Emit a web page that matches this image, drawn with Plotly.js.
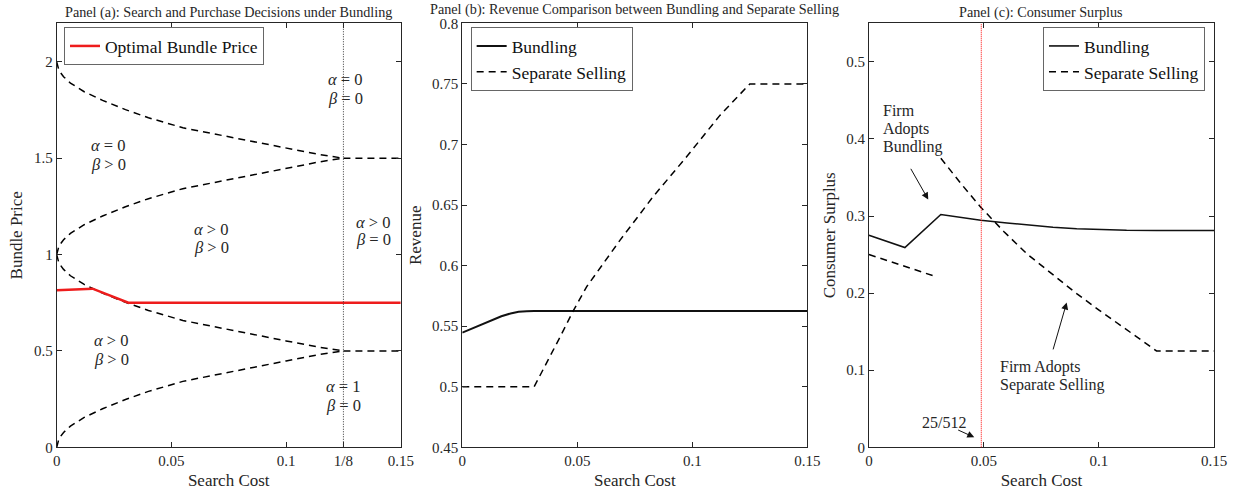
<!DOCTYPE html>
<html><head><meta charset="utf-8">
<script src="https://cdn.plot.ly/plotly-3.0.1.min.js"></script>
<style>html,body{margin:0;padding:0;background:#fff}#chart{width:1235px;height:492px}</style>
</head><body><div id="chart"></div>
<script>
// ---------- Panel (a) data ----------
const costGridA = [0, 0.001, 0.003, 0.006, 0.012, 0.02, 0.03, 0.04, 0.055, 0.07, 0.085, 0.1, 0.115, 0.125];
const upperHigh = [2.0, 1.955, 1.923, 1.89, 1.845, 1.80, 1.752, 1.71, 1.658, 1.622, 1.587, 1.552, 1.518, 1.5];
const upperLow  = [1.0, 1.045, 1.077, 1.11, 1.155, 1.20, 1.248, 1.29, 1.342, 1.378, 1.413, 1.448, 1.482, 1.5];
const lowerHigh = [1.0, 0.955, 0.923, 0.89, 0.845, 0.80, 0.752, 0.71, 0.658, 0.622, 0.587, 0.552, 0.518, 0.5];
const lowerLow  = [0.0, 0.045, 0.077, 0.11, 0.155, 0.20, 0.248, 0.29, 0.342, 0.378, 0.413, 0.448, 0.482, 0.5];
const flatCost  = [0.125, 0.15];
const flatUpper = [1.5, 1.5];
const flatLower = [0.5, 0.5];
const optimalCost  = [0, 0.015625, 0.03125, 0.15];
const optimalPrice = [0.815, 0.823, 0.75, 0.75];
const thresholdA = 0.125;
const xTickValsA = [0, 0.05, 0.1, 0.125, 0.15];
const xTickTextA = ['0', '0.05', '0.1', '1/8', '0.15'];
const yTickValsA = [0, 0.5, 1, 1.5, 2];
const yTickTextA = ['0', '0.5', '1', '1.5', '2'];

// ---------- Panel (b) data ----------
const revCostBundle = [0, 0.004, 0.008, 0.0125, 0.017, 0.021, 0.0245, 0.028, 0.03125, 0.15];
const revBundle     = [0.5446, 0.5477, 0.5507, 0.5545, 0.5582, 0.5605, 0.5618, 0.5624, 0.5625, 0.5625];
const revCostSep    = [0, 0.03125, 0.0425, 0.0483, 0.0541, 0.0686, 0.083, 0.0976, 0.112, 0.125, 0.15];
const revSep        = [0.5, 0.5, 0.541, 0.5628, 0.5826, 0.621, 0.657, 0.690, 0.724, 0.75, 0.75];
const yTickValsB = [0.45, 0.5, 0.55, 0.6, 0.65, 0.7, 0.75, 0.8];
const yTickTextB = ['0.45', '0.5', '0.55', '0.6', '0.65', '0.7', '0.75', '0.8'];

// ---------- Panel (c) data ----------
const csCostBundle = [0, 0.015625, 0.03125, 0.04, 0.0486, 0.06, 0.0686, 0.08, 0.0903, 0.1, 0.112, 0.125, 0.15];
const csBundle     = [0.275, 0.259, 0.302, 0.298, 0.2945, 0.291, 0.2885, 0.2855, 0.2835, 0.2823, 0.2815, 0.2813, 0.2813];
const csCostSep    = [0, 0.0295, null, 0.03125, 0.04, 0.0486, 0.0586, 0.0686, 0.08, 0.0903, 0.1, 0.112, 0.125, 0.15];
const csSep        = [0.25, 0.221, null, 0.375, 0.342, 0.3114, 0.28, 0.2511, 0.224, 0.1993, 0.178, 0.152, 0.125, 0.125];
const thresholdC = 25 / 512;
const xTickValsBC = [0, 0.05, 0.1, 0.15];
const xTickTextBC = ['0', '0.05', '0.1', '0.15'];
const yTickValsC = [0, 0.1, 0.2, 0.3, 0.4, 0.5];
const yTickTextC = ['0', '0.1', '0.2', '0.3', '0.4', '0.5'];

// ---------- styling ----------
const FONT = 'Liberation Serif';
const INK = '#262626';
const DASH = '7px,5px';

function dashed(x, y, xa, ya, extra) {
  return Object.assign({x: x, y: y, xaxis: xa, yaxis: ya, type: 'scatter', mode: 'lines',
    line: {color: '#000', width: 1.5, dash: DASH}, showlegend: false, hoverinfo: 'skip'}, extra || {});
}

const traces = [
  dashed(costGridA, upperHigh, 'x', 'y'),
  dashed(costGridA, upperLow, 'x', 'y'),
  dashed(flatCost, flatUpper, 'x', 'y'),
  dashed(costGridA, lowerHigh, 'x', 'y'),
  dashed(costGridA, lowerLow, 'x', 'y'),
  dashed(flatCost, flatLower, 'x', 'y'),
  {x: optimalCost, y: optimalPrice, xaxis: 'x', yaxis: 'y', type: 'scatter', mode: 'lines',
   name: 'Optimal Bundle Price', line: {color: '#ee1c1c', width: 2.5}, legend: 'legend'},
  {x: revCostBundle, y: revBundle, xaxis: 'x2', yaxis: 'y2', type: 'scatter', mode: 'lines',
   name: 'Bundling', line: {color: '#111', width: 2}, legend: 'legend2'},
  dashed(revCostSep, revSep, 'x2', 'y2', {name: 'Separate Selling', showlegend: true, legend: 'legend2'}),
  {x: csCostBundle, y: csBundle, xaxis: 'x3', yaxis: 'y3', type: 'scatter', mode: 'lines',
   name: 'Bundling', line: {color: '#111', width: 1.6}, legend: 'legend3'},
  dashed(csCostSep, csSep, 'x3', 'y3', {name: 'Separate Selling', showlegend: true, legend: 'legend3', connectgaps: false})
];

function xAxis(domain, tv, tt, anchor) {
  return {domain: domain, range: [0, 0.15], anchor: anchor, tickvals: tv, ticktext: tt,
    ticks: 'inside', ticklen: 5, tickwidth: 1, tickcolor: INK, showline: true, linecolor: INK, linewidth: 1,
    mirror: 'ticks', showgrid: false, zeroline: false, automargin: false,
    tickfont: {family: FONT, size: 15, color: INK},
    title: {text: 'Search Cost', font: {family: FONT, size: 17, color: INK}, standoff: 5}};
}
function yAxis(range, tv, tt, title, anchor) {
  return {domain: [0.0909, 0.9526], range: range, anchor: anchor, tickvals: tv, ticktext: tt,
    ticks: 'inside', ticklen: 5, tickwidth: 1, tickcolor: INK, showline: true, linecolor: INK, linewidth: 1,
    mirror: 'ticks', showgrid: false, zeroline: false, automargin: false,
    tickfont: {family: FONT, size: 15, color: INK},
    title: {text: title, font: {family: FONT, size: 17, color: INK}, standoff: 6}};
}

function legendAt(x, xanchor) {
  return {x: x, y: 0.945, xanchor: xanchor, yanchor: 'top', bgcolor: '#fff', bordercolor: '#666',
    borderwidth: 1, font: {family: FONT, size: 17.5, color: '#111'}, itemwidth: 30, tracegroupgap: 0};
}

function note(text, x, y, xa, ya, size) {
  return {text: text, x: x, y: y, xref: xa, yref: ya, xanchor: 'left', yanchor: 'middle', align: 'left',
    showarrow: false, font: {family: FONT, size: size || 16, color: INK}};
}
function arrow(x0, y0, x1, y1) {
  return {text: '', x: x1, y: y1, ax: x0, ay: y0, xref: 'x3', yref: 'y3', axref: 'x3', ayref: 'y3',
    showarrow: true, arrowhead: 2, arrowsize: 1.4, arrowwidth: 1, arrowcolor: '#111'};
}
function panelTitle(text, x, y) {
  return {text: text, x: x, y: y, xref: 'paper', yref: 'paper', xanchor: 'center', yanchor: 'middle',
    showarrow: false, font: {family: FONT, size: 14.2, color: INK}};
}

const A = '<i>α</i>', B = '<i>β</i>';
const annotations = [
  panelTitle('Panel (a): Search and Purchase Decisions under Bundling', 0.1852, 0.9756),
  panelTitle('Panel (b): Revenue Comparison between Bundling and Separate Selling', 0.514, 0.981),
  panelTitle('Panel (c): Consumer Surplus', 0.8433, 0.9756),
  note(A + ' = 0', 0.1174, 1.906, 'x', 'y', 16.5), note(B + ' = 0', 0.1174, 1.808, 'x', 'y', 16.5),
  note(A + ' = 0', 0.0141, 1.568, 'x', 'y', 16.5), note(B + ' > 0', 0.0141, 1.470, 'x', 'y', 16.5),
  note(A + ' > 0', 0.0588, 1.130, 'x', 'y', 16.5), note(B + ' > 0', 0.0588, 1.035, 'x', 'y', 16.5),
  note(A + ' > 0', 0.1296, 1.168, 'x', 'y', 16.5), note(B + ' = 0', 0.1296, 1.077, 'x', 'y', 16.5),
  note(A + ' > 0', 0.0153, 0.552, 'x', 'y', 16.5), note(B + ' > 0', 0.0153, 0.455, 'x', 'y', 16.5),
  note(A + ' = 1', 0.1166, 0.314, 'x', 'y', 16.5), note(B + ' = 0', 0.1166, 0.215, 'x', 'y', 16.5),
  note('Firm', 0.0051, 0.4366, 'x3', 'y3'),
  note('Adopts', 0.0051, 0.4129, 'x3', 'y3'),
  note('Bundling', 0.0051, 0.390, 'x3', 'y3'),
  note('Firm Adopts', 0.0562, 0.1043, 'x3', 'y3'),
  note('Separate Selling', 0.0562, 0.0806, 'x3', 'y3'),
  note('25/512', 0.0222, 0.0318, 'x3', 'y3', 16),
  arrow(0.01783, 0.3632, 0.02578, 0.3214),
  arrow(0.07987, 0.125, 0.08596, 0.1877),
  arrow(0.03813, 0.0233, 0.04578, 0.0129)
];

const shapes = [
  {type: 'line', xref: 'x', yref: 'y domain', x0: thresholdA, x1: thresholdA, y0: 0, y1: 1,
   line: {color: '#333', width: 1, dash: '1px,1.5px'}},
  {type: 'line', xref: 'x3', yref: 'y3 domain', x0: thresholdC, x1: thresholdC, y0: 0, y1: 1,
   line: {color: '#ff0000', width: 1, dash: '1px,1px'}}
];

const layout = {
  width: 1235, height: 492, margin: {l: 0, r: 0, t: 0, b: 0},
  paper_bgcolor: '#fff', plot_bgcolor: '#fff',
  font: {family: FONT, color: INK},
  xaxis: xAxis([0.0459, 0.3245], xTickValsA, xTickTextA, 'y'),
  yaxis: yAxis([0, 2.2], yTickValsA, yTickTextA, 'Bundle Price', 'x'),
  xaxis2: xAxis([0.3743, 0.6537], xTickValsBC, xTickTextBC, 'y2'),
  yaxis2: yAxis([0.45, 0.8], yTickValsB, yTickTextB, 'Revenue', 'x2'),
  xaxis3: xAxis([0.7036, 0.983], xTickValsBC, xTickTextBC, 'y3'),
  yaxis3: yAxis([0, 0.55], yTickValsC, yTickTextC, 'Consumer Surplus', 'x3'),
  legend: legendAt(0.0518, 'left'),
  legend2: legendAt(0.3811, 'left'),
  legend3: legendAt(0.9757, 'right'),
  annotations: annotations,
  shapes: shapes,
  showlegend: true
};

Plotly.newPlot('chart', traces, layout, {displayModeBar: false, staticPlot: true});
</script></body></html>
